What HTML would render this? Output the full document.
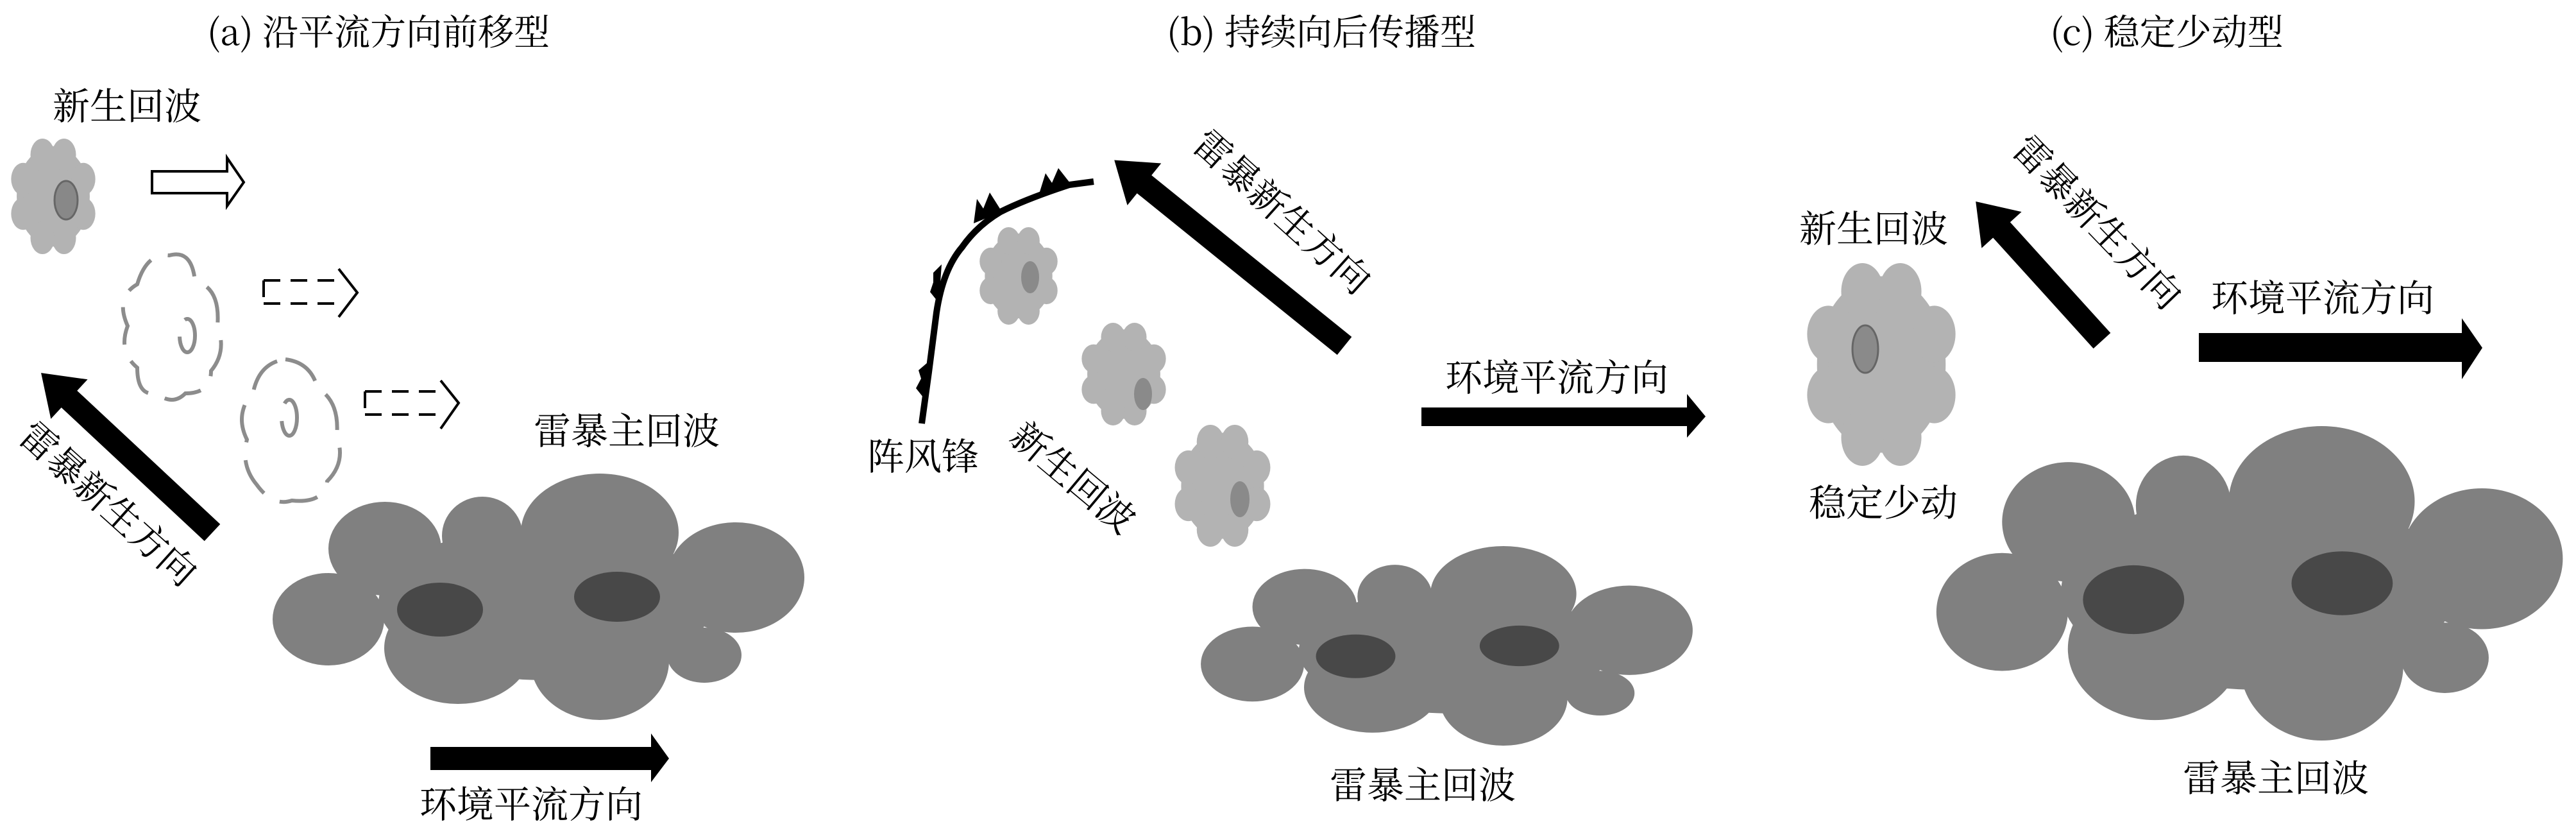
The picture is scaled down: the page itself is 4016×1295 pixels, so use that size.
<!DOCTYPE html>
<html><head><meta charset="utf-8"><style>
html,body{margin:0;padding:0;background:#fff;}
svg{display:block;}
text{font-family:"Noto Serif CJK SC","Liberation Serif",serif;fill:#000;}
</style></head><body>
<svg width="4016" height="1295" viewBox="0 0 4016 1295" xmlns="http://www.w3.org/2000/svg">
<defs>
<g id="big">
  <ellipse cx="850" cy="940" rx="260" ry="120" fill="#808080"/>
  <ellipse cx="512" cy="965" rx="87" ry="72" fill="#808080"/>
  <ellipse cx="600" cy="855" rx="88" ry="73" fill="#808080"/>
  <ellipse cx="752" cy="835" rx="63" ry="61" fill="#808080"/>
  <ellipse cx="935" cy="830" rx="123" ry="92" fill="#808080"/>
  <ellipse cx="1147" cy="900" rx="107" ry="86" fill="#808080"/>
  <ellipse cx="714" cy="1010" rx="115" ry="87" fill="#808080"/>
  <ellipse cx="935" cy="1030" rx="108" ry="92" fill="#808080"/>
  <ellipse cx="1098" cy="1021" rx="58" ry="43" fill="#808080"/>
  <ellipse cx="686" cy="950" rx="67" ry="42" fill="#484848"/>
  <ellipse cx="962" cy="930" rx="67" ry="39" fill="#484848"/>
</g>
<g id="sc" fill="#b3b3b3">
  <ellipse cx="0" cy="0" rx="0.85" ry="0.87"/>
  <circle cx="-0.25" cy="-0.72" r="0.28"/>
  <circle cx="0.25" cy="-0.72" r="0.28"/>
  <circle cx="0.7" cy="-0.3" r="0.28"/>
  <circle cx="0.7" cy="0.3" r="0.28"/>
  <circle cx="0.25" cy="0.72" r="0.28"/>
  <circle cx="-0.25" cy="0.72" r="0.28"/>
  <circle cx="-0.7" cy="0.3" r="0.28"/>
  <circle cx="-0.7" cy="-0.3" r="0.28"/>
</g>
</defs>

<!-- titles -->
<text x="590" y="70" font-size="56" text-anchor="middle">(a) 沿平流方向前移型</text>
<text x="2060" y="70" font-size="56" text-anchor="middle">(b) 持续向后传播型</text>
<text x="3378" y="70" font-size="56" text-anchor="middle">(c) 稳定少动型</text>

<!-- PANEL A -->
<text x="198" y="186" font-size="58" text-anchor="middle">新生回波</text>
<use href="#sc" transform="translate(83,306) scale(67,90)"/>
<ellipse cx="103" cy="312" rx="18" ry="30" fill="#888" stroke="#666" stroke-width="3"/>
<polygon points="237,267 354,267 354,246 380,284 354,321 354,301 237,301" fill="#fff" stroke="#000" stroke-width="4"/>

<g fill="none" stroke="#8c8c8c" stroke-width="6" stroke-dasharray="60 28">
  <path d="M264,398 q35,-10 40,40 q40,10 35,70 q15,40 -10,70 q0,35 -40,35 q-20,20 -45,0 q-30,5 -30,-40 q-30,-25 -15,-65 q-20,-45 15,-65 q15,-50 50,-45z"/>
  <ellipse cx="292" cy="523" rx="12" ry="26"/>
  <path d="M445,560 q40,5 50,45 q35,20 30,75 q15,40 -15,70 q-5,35 -55,30 q-30,10 -55,-25 q-25,-30 -15,-70 q-20,-40 10,-75 q10,-45 50,-50z"/>
  <ellipse cx="451" cy="651" rx="12" ry="28"/>
</g>
<g stroke="#000" stroke-width="4" fill="none">
  <path d="M411,437 L528,437 M411,473 L528,473 M411,437 L411,473" stroke-dasharray="26 16"/>
  <polyline points="528,419 557,456 528,494" fill="#fff"/>
  <path d="M569,610 L687,610 M569,646 L687,646 M569,610 L569,646" stroke-dasharray="26 16"/>
  <polyline points="687,593 715,628 687,668" fill="#fff"/>
</g>
<polygon points="0,-18 305,-18 305,-42 365,0 305,42 305,18 0,18" fill="#000" transform="translate(331,830) rotate(223)"/>
<text font-size="58" text-anchor="middle" transform="translate(155,800) rotate(42)">雷暴新生方向</text>
<text x="977" y="692" font-size="58" text-anchor="middle">雷暴主回波</text>
<use href="#big"/>
<polygon points="671,1164 1015,1164 1015,1143 1043,1182 1015,1219 1015,1200 671,1200" fill="#000"/>
<text x="828" y="1274" font-size="58" text-anchor="middle">环境平流方向</text>

<!-- PANEL B -->
<path d="M1437,660 L1448,580 L1460,487 Q1470,420 1500,385 Q1523,352 1560,330 Q1600,310 1667,288 L1705,283" fill="none" stroke="#000" stroke-width="10"/>
<g fill="#000">
  <polygon points="1518,348 1523,310 1533,325 1543,300 1562,330"/>
  <polygon points="1620,302 1630,270 1640,285 1650,262 1672,290"/>
  <polygon points="1468,412 1455,425 1455,440 1450,455 1462,470 1466,440"/>
  <polygon points="1446,565 1432,577 1436,590 1428,605 1440,620 1444,590"/>
</g>
<polygon points="0,-18 401,-18 401,-42 461,0 401,42 401,18 0,18" fill="#000" transform="translate(2096,539) rotate(218.9)"/>
<text font-size="58" text-anchor="middle" transform="translate(1985,345) rotate(42)">雷暴新生方向</text>
<use href="#sc" transform="translate(1588,430) scale(62,76)"/>
<ellipse cx="1606" cy="432" rx="14" ry="25" fill="#8a8a8a"/>
<use href="#sc" transform="translate(1752,583) scale(67,80)"/>
<ellipse cx="1782" cy="614" rx="14" ry="25" fill="#8a8a8a"/>
<use href="#sc" transform="translate(1906,757) scale(76,95)"/>
<ellipse cx="1933" cy="778" rx="15" ry="28" fill="#8a8a8a"/>
<text x="1439" y="732" font-size="58" text-anchor="middle">阵风锋</text>
<text font-size="58" text-anchor="middle" transform="translate(1660,760) rotate(40)">新生回波</text>
<text x="2427" y="609" font-size="58" text-anchor="middle">环境平流方向</text>
<polygon points="2216,635 2630,635 2630,614 2659,649 2630,682 2630,664 2216,664" fill="#000"/>
<use href="#big" transform="translate(1873,851) scale(0.925,0.81) translate(-426,-738)"/>
<text x="2218" y="1244" font-size="58" text-anchor="middle">雷暴主回波</text>

<!-- PANEL C -->
<text x="2921" y="377" font-size="58" text-anchor="middle">新生回波</text>
<use href="#sc" transform="translate(2933,568) scale(118,158)"/>
<ellipse cx="2908" cy="544" rx="20" ry="37" fill="#8a8a8a" stroke="#666" stroke-width="3"/>
<text x="2936" y="804" font-size="58" text-anchor="middle">稳定少动</text>
<polygon points="0,-18 233,-18 233,-42 293,0 233,42 233,18 0,18" fill="#000" transform="translate(3277,531) rotate(227.8)"/>
<text font-size="58" text-anchor="middle" transform="translate(3255,360) rotate(46)">雷暴新生方向</text>
<text x="3621" y="485" font-size="58" text-anchor="middle">环境平流方向</text>
<polygon points="3428,519 3838,519 3838,496 3870,542 3838,591 3838,564 3428,564" fill="#000"/>
<use href="#big" transform="translate(3020,664) scale(1.178,1.276) translate(-426,-738)"/>
<text x="3548" y="1233" font-size="58" text-anchor="middle">雷暴主回波</text>
</svg>
</body></html>
